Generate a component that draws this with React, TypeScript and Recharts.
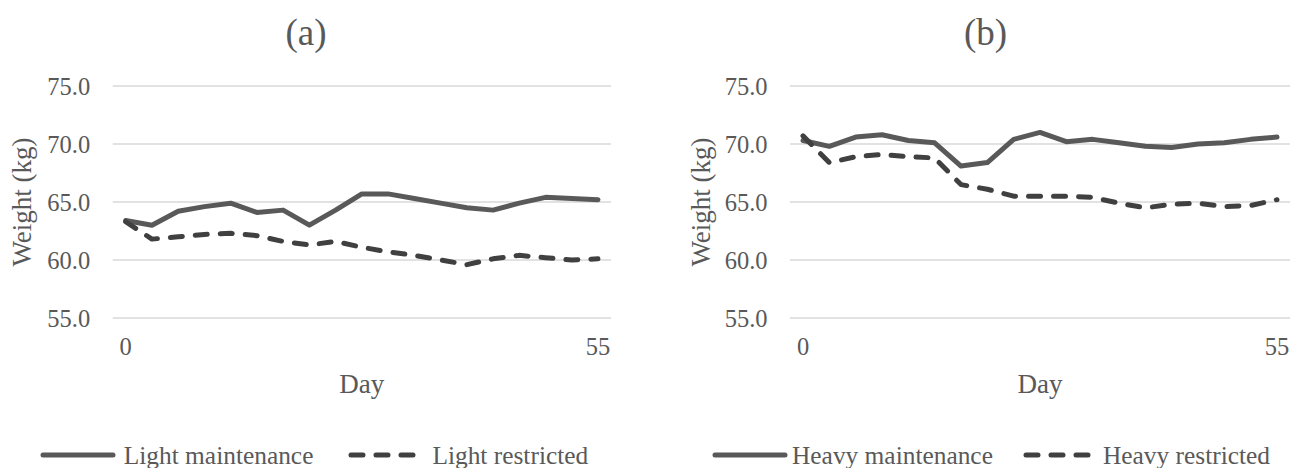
import React from 'react';
import { LineChart, Line, XAxis, YAxis, CartesianGrid, Legend } from 'recharts';

const days = ['0', '3', '6', '9', '12', '15', '18', '21', '24', '27', '30', '33', '36', '39', '42', '45', '48', '51', '55'];
const lightMaintenance = [63.4, 63.0, 64.2, 64.6, 64.9, 64.1, 64.3, 63.0, 64.3, 65.7, 65.7, 65.3, 64.9, 64.5, 64.3, 64.9, 65.4, 65.3, 65.2];
const lightRestricted = [63.3, 61.8, 62.0, 62.2, 62.3, 62.1, 61.6, 61.3, 61.6, 61.1, 60.7, 60.4, 60.0, 59.6, 60.1, 60.4, 60.2, 60.0, 60.1];
const heavyMaintenance = [70.3, 69.8, 70.6, 70.8, 70.3, 70.1, 68.1, 68.4, 70.4, 71.0, 70.2, 70.4, 70.1, 69.8, 69.7, 70.0, 70.1, 70.4, 70.6];
const heavyRestricted = [70.7, 68.4, 68.9, 69.1, 68.9, 68.8, 66.5, 66.1, 65.5, 65.5, 65.5, 65.4, 64.9, 64.5, 64.8, 64.9, 64.6, 64.7, 65.2];
const yTicks = [55, 60, 65, 70, 75];
const yDomain = [55, 75];

const FONT = '"Liberation Serif", "Times New Roman", serif';
const TEXT = '#595959';
const SOLID = '#595959';
const DASHED = '#404040';
const DASH = '12 13';

type Series = { key: string; name: string; values: number[]; dashed: boolean };

const H = 468;
const PLOT_TOP = 86;
const PLOT_BOTTOM = 318;
const X_AXIS_H = 30;
const Y_AXIS_W = 60;

function Panel(props: {
  left: number;
  width: number;
  plotLeft: number;
  title: string;
  series: Series[];
  yLabelX: number;
  legendPad: number;
  legendTextGap: number;
  legendItemGap: number;
}) {
  const { left, width, plotLeft, title, series, yLabelX, legendPad, legendTextGap, legendItemGap } = props;
  const data = days.map((d, i) => {
    const row: Record<string, string | number> = { day: d };
    series.forEach((s) => {
      row[s.key] = s.values[i];
    });
    return row;
  });
  const plotRight = width - 1;
  const plotCenter = (plotLeft + plotRight) / 2;
  const renderLegend = () => (
    <div
      style={{
        display: 'flex',
        justifyContent: 'center',
        alignItems: 'center',
        fontFamily: FONT,
        fontSize: 25.4,
        color: TEXT,
        lineHeight: '26px',
        whiteSpace: 'nowrap',
        paddingLeft: legendPad,
      }}
    >
      {series.map((s, i) => (
        <div key={s.key} style={{ display: 'flex', alignItems: 'center', marginLeft: i === 0 ? 0 : legendItemGap }}>
          <svg width={76} height={12} style={{ marginRight: legendTextGap }}>
            <line
              x1={3}
              y1={6}
              x2={73}
              y2={6}
              stroke={s.dashed ? DASHED : SOLID}
              strokeWidth={5}
              strokeLinecap="round"
              strokeDasharray={s.dashed ? DASH : undefined}
            />
          </svg>
          <span>{s.name}</span>
        </div>
      ))}
    </div>
  );
  return (
    <div style={{ position: 'absolute', left, top: 0, width, height: H }}>
      <LineChart
        width={width}
        height={H}
        data={data}
        margin={{ top: PLOT_TOP, right: width - plotRight, bottom: H - PLOT_BOTTOM - X_AXIS_H, left: plotLeft - Y_AXIS_W }}
      >
        <CartesianGrid horizontal vertical={false} stroke="#d9d9d9" strokeWidth={1.5} />
        <XAxis
          dataKey="day"
          type="category"
          interval={days.length - 2}
          tickLine={false}
          axisLine={false}
          height={X_AXIS_H}
          tickMargin={14}
          padding={{ left: 13, right: 13 }}
          tick={{ fill: TEXT, fontSize: 24.5, fontFamily: FONT }}
        />
        <YAxis
          type="number"
          domain={yDomain}
          ticks={yTicks}
          width={Y_AXIS_W}
          tickLine={false}
          axisLine={false}
          tickMargin={16.5}
          tickFormatter={(v: number) => v.toFixed(1)}
          tick={{ fill: TEXT, fontSize: 24.5, fontFamily: FONT }}
        />
        {series.map((s) => (
          <Line
            key={s.key}
            dataKey={s.key}
            name={s.name}
            type="linear"
            stroke={s.dashed ? DASHED : SOLID}
            strokeWidth={5}
            strokeLinecap="round"
            strokeLinejoin="round"
            strokeDasharray={s.dashed ? DASH : undefined}
            dot={false}
            activeDot={false}
            isAnimationActive={false}
          />
        ))}
        <Legend
          layout="horizontal"
          verticalAlign="middle"
          align="center"
          content={renderLegend}
          wrapperStyle={{ top: 442, left: 0, width: width }}
        />
      </LineChart>
      <svg
        width={width}
        height={H}
        style={{ position: 'absolute', left: 0, top: 0, pointerEvents: 'none' }}
      >
        <text x={width / 2} y={45} textAnchor="middle" fontFamily={FONT} fontSize={37} fill={TEXT}>
          {title}
        </text>
        <text
          transform={`translate(${yLabelX},202) rotate(-90)`}
          textAnchor="middle"
          fontFamily={FONT}
          fontSize={27}
          fill={TEXT}
        >
          Weight (kg)
        </text>
        <text x={plotCenter} y={393} textAnchor="middle" fontFamily={FONT} fontSize={27} fill={TEXT}>
          Day
        </text>
      </svg>
    </div>
  );
}

const seriesA: Series[] = [
  { key: 'lm', name: 'Light maintenance', values: lightMaintenance, dashed: false },
  { key: 'lr', name: 'Light restricted', values: lightRestricted, dashed: true },
];
const seriesB: Series[] = [
  { key: 'hm', name: 'Heavy maintenance', values: heavyMaintenance, dashed: false },
  { key: 'hr', name: 'Heavy restricted', values: heavyRestricted, dashed: true },
];

export default function App() {
  return (
    <div style={{ position: 'absolute', left: 0, top: 0, width: 1290, height: H, background: '#fff', overflow: 'hidden' }}>
      <Panel
        left={0}
        width={612}
        plotLeft={112.7}
        title="(a)"
        series={seriesA}
        yLabelX={31}
        legendPad={16}
        legendTextGap={8}
        legendItemGap={35}
      />
      <Panel
        left={680}
        width={611}
        plotLeft={110}
        title="(b)"
        series={seriesB}
        yLabelX={30}
        legendPad={11}
        legendTextGap={4}
        legendItemGap={30}
      />
    </div>
  );
}
